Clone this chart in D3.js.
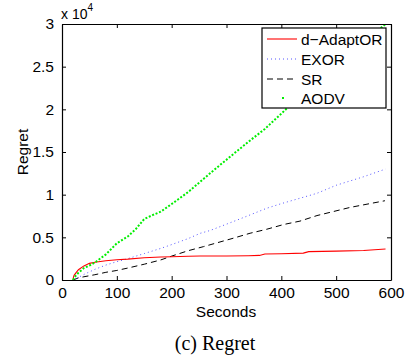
<!DOCTYPE html>
<html><head><meta charset="utf-8">
<script src="https://cdn.jsdelivr.net/npm/d3@7"></script>
<style>body{margin:0;background:#fff}svg{display:block}</style>
</head><body>
<script>
const xTicks = [0,100,200,300,400,500,600];
const yTicks = [0,5000,10000,15000,20000,25000,30000];
const yTickLabels = ["0","0.5","1","1.5","2","2.5","3"];
const seriesNames = ["d\u2212AdaptOR","EXOR","SR","AODV"];
const adaptSec = [20,21,22,25,30,40,50,60,80,100,120,150,180,200,230,252,300,340,360,370,400,440,450,500,550,590];
const adaptVal = [0,350,550,800,1200,1650,1950,2080,2250,2380,2450,2600,2700,2730,2780,2810,2820,2850,2880,3040,3080,3150,3320,3380,3450,3630];
const exorSec = [20,30,40,50,60,80,100,120,150,180,200,230,252,270,312,340,373,400,465,500,550,590];
const exorVal = [0,300,650,950,1250,1750,2150,2500,3100,3700,4150,4850,5470,5800,6840,7550,8400,8950,10160,11100,12100,13000];
const srSec = [20,30,40,60,80,100,120,150,180,200,230,258,312,343,373,404,434,465,525,589];
const srVal = [0,250,380,620,900,1120,1400,1850,2350,2800,3430,3910,4890,5480,5940,6500,6900,7550,8500,9290];
const aodvSec = [20,25,30,40,50,60,80,100,120,135,150,165,180,200,230,270,300,340,370,400,410,450,500,550,590];
const aodvVal = [0,500,850,1400,1700,2050,3000,4300,5100,6000,7150,7600,8000,8900,10300,12500,14100,16200,17700,19500,20100,22300,25000,27800,30000];

const W=419,H=364;
const svg=d3.select("body").append("svg").attr("width",W).attr("height",H);
const L=62,R=391,T=24,B=280;
const x=d3.scaleLinear().domain([0,600]).range([L,R]);
const y=d3.scaleLinear().domain([0,30000]).range([B,T]);
const font="'Liberation Sans', Arial, sans-serif";

svg.append("defs").append("clipPath").attr("id","clip").append("rect")
  .attr("x",L).attr("y",T).attr("width",R-L).attr("height",B-T);

const line=d3.line().x(d=>x(d[0])).y(d=>y(d[1]));
const g=svg.append("g").attr("clip-path","url(#clip)");
const series=[
 {sec:srSec,val:srVal,stroke:"#000",w:1,dash:"6,4"},
 {sec:exorSec,val:exorVal,stroke:"#5555ff",w:1,dash:"1,3"},
 {sec:adaptSec,val:adaptVal,stroke:"#ff0000",w:1.1,dash:null},
 {sec:aodvSec,val:aodvVal,stroke:"#00ee00",w:2,dash:"2,1.7"}
];
series.forEach(s=>{
  g.append("path").datum(s.sec.map((v,i)=>[v,s.val[i]]))
   .attr("d",line).attr("fill","none").attr("stroke",s.stroke)
   .attr("stroke-width",s.w).attr("stroke-dasharray",s.dash);
});

// axes with inward ticks
const axB=svg.append("g").attr("transform",`translate(0,${B})`)
  .call(d3.axisBottom(x).tickValues(xTicks).tickSize(-4).tickPadding(7).tickSizeOuter(0));
const axT=svg.append("g").attr("transform",`translate(0,${T})`)
  .call(d3.axisTop(x).tickValues(xTicks).tickSize(-4).tickFormat("").tickSizeOuter(0));
const axL=svg.append("g").attr("transform",`translate(${L},0)`)
  .call(d3.axisLeft(y).tickValues(yTicks).tickSize(-4).tickPadding(8).tickSizeOuter(0)
  .tickFormat((d,i)=>yTickLabels[i]));
const axR=svg.append("g").attr("transform",`translate(${R},0)`)
  .call(d3.axisRight(y).tickValues(yTicks).tickSize(-4).tickFormat("").tickSizeOuter(0));
[axB,axT,axL,axR].forEach(a=>{
  a.selectAll("path.domain").attr("stroke","#000").attr("stroke-width",1.2);
  a.selectAll("line").attr("stroke","#000");
  a.selectAll("text").attr("font-family",font).attr("font-size","15.5px").attr("fill","#000");
});

// exponent
const ex=svg.append("text").attr("x",L-1).attr("y",19).attr("font-family",font).attr("font-size","14px");
ex.append("tspan").text("x 10");
ex.append("tspan").attr("dy",-8).attr("font-size","10px").text("4");

// axis labels
svg.append("text").attr("x",226).attr("y",317).attr("text-anchor","middle")
 .attr("font-family",font).attr("font-size","15.5px").text("Seconds");
svg.append("text").attr("transform","translate(28,152) rotate(-90)").attr("text-anchor","middle")
 .attr("font-family",font).attr("font-size","15.5px").text("Regret");

// legend
const lg=svg.append("g");
lg.append("rect").attr("x",262).attr("y",28).attr("width",124).attr("height",80)
 .attr("fill","#fff").attr("stroke","#000").attr("stroke-width",1.2);
const legStyles=[
 {stroke:"#ff0000",w:1.1,dash:null},
 {stroke:"#5555ff",w:1,dash:"1,3"},
 {stroke:"#000",w:1,dash:"6,4"},
 {stroke:"#00ee00",w:2,dash:null}
];
const rowY=[39,59,79,98];
seriesNames.forEach((n,i)=>{
  const s=legStyles[i];
  if(i===3){
    lg.append("rect").attr("x",282).attr("y",rowY[i]-1).attr("width",2).attr("height",2).attr("fill",s.stroke);
  } else {
    lg.append("line").attr("x1",267).attr("x2",297).attr("y1",rowY[i]).attr("y2",rowY[i])
     .attr("stroke",s.stroke).attr("stroke-width",s.w).attr("stroke-dasharray",s.dash);
  }
  lg.append("text").attr("x",301).attr("y",rowY[i]).attr("dy","0.36em")
   .attr("font-family",font).attr("font-size","15.5px").text(n);
});

// caption
svg.append("text").attr("x",215).attr("y",350).attr("text-anchor","middle")
 .attr("font-family","'Liberation Serif', 'Times New Roman', serif").attr("font-size","20px")
 .style("white-space","pre").text("(c) Regret");
</script>
</body></html>
